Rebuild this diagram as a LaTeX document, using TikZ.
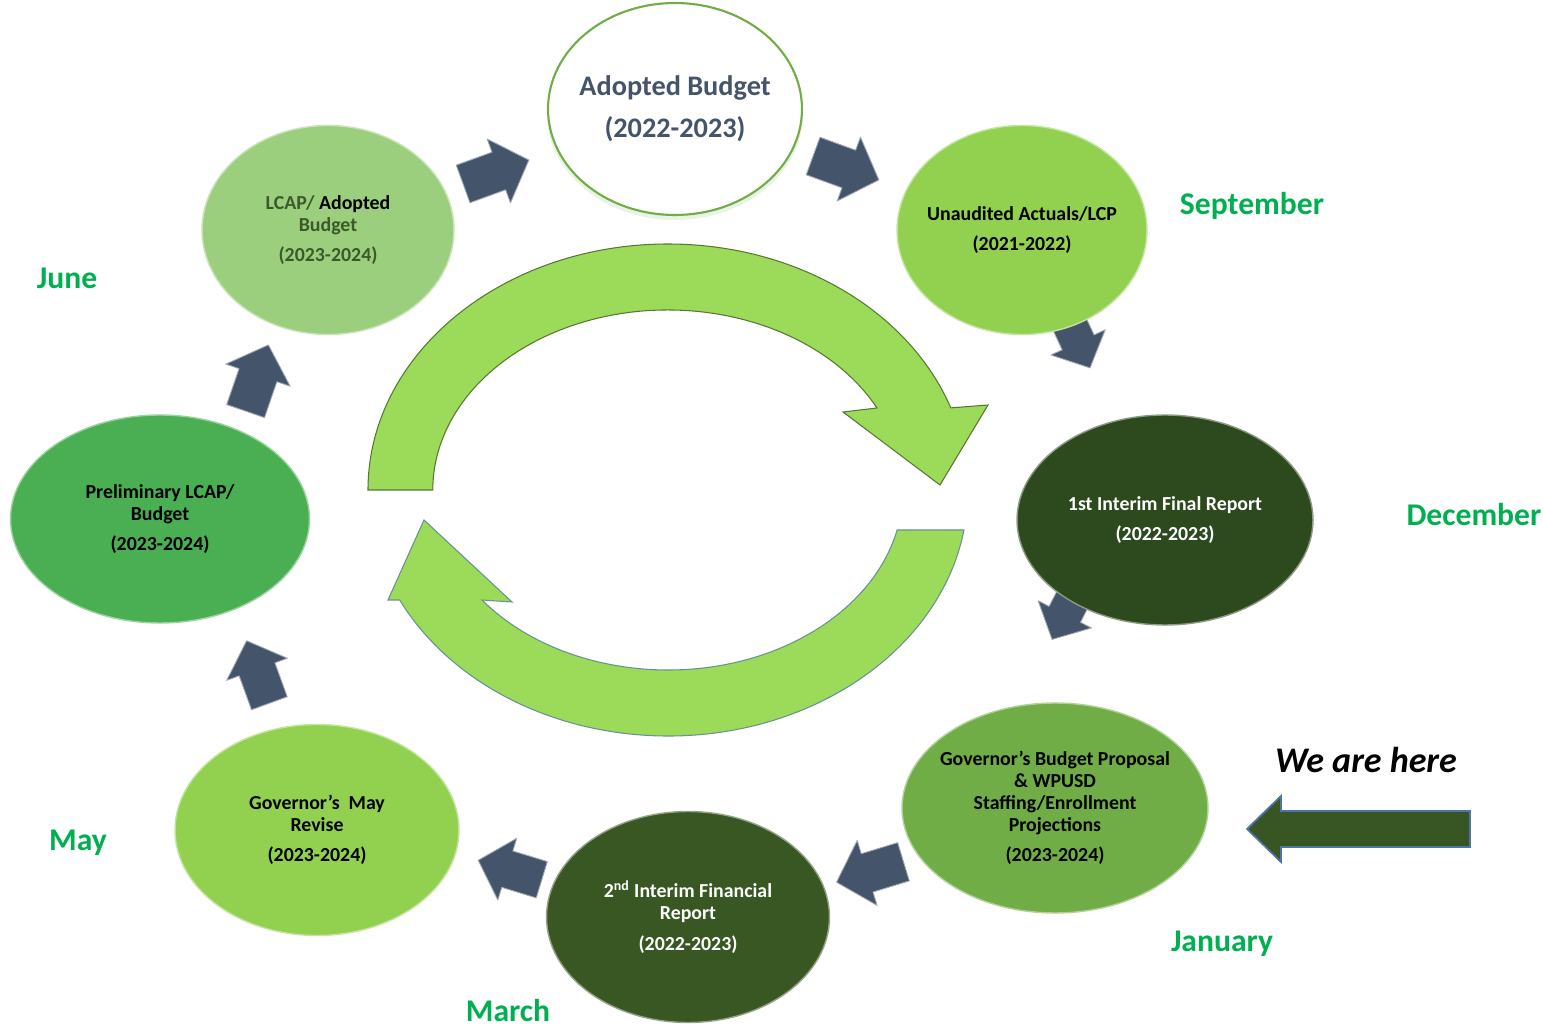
\documentclass[tikz,border=0pt]{standalone}
\usepackage{fontspec}
\setmainfont{Carlito}
\usetikzlibrary{shapes.geometric}

\definecolor{slate}{HTML}{44546A}
\definecolor{monthgreen}{HTML}{00B050}
\definecolor{olive}{HTML}{3B5A2B}
\definecolor{paleg}{HTML}{9CCF7D}
\definecolor{limeg}{HTML}{92D050}
\definecolor{darkg}{HTML}{2D4A1E}
\definecolor{midg}{HTML}{70AD47}
\definecolor{forestg}{HTML}{385723}
\definecolor{grassg}{HTML}{4AAE52}
\definecolor{ringg}{HTML}{9CDB5A}
\definecolor{pointerg}{HTML}{375623}
\definecolor{pointerline}{HTML}{4F74A8}

\begin{document}
\begin{tikzpicture}[x=0.02cm, y=-0.02cm,
    stage/.style={ellipse, inner sep=0pt, fill=#1, draw=#1!55!white, line width=0.8pt},
    stagetext/.style={align=center, font=\fontsize{11.3}{12.4}\selectfont\bfseries},
    monthlabel/.style={text=monthgreen, font=\fontsize{18}{21}\selectfont\bfseries},
    flowstyle/.style={fill=slate, draw=slate!50!white, line width=0.5pt, line join=round},
    pics/flow/.style={code={
        \draw[flowstyle] (-35,-20) -- (3,-20) -- (3,-34) -- (35,0) -- (3,34) -- (3,20) -- (-35,20) -- cycle;}},
    ringarrow/.style={fill=ringg, draw=ringg!55!black, line width=0.6pt}]
    \useasboundingbox (0,0) rectangle (1543,1030);

    \draw[ringarrow] (368,490) arc[start angle=180, end angle=340.5, x radius=300, y radius=246]
        -- (988,405) -- (940,485) -- (843,412) -- (877,408)
        arc[start angle=332.9, end angle=180, x radius=235, y radius=180] -- cycle;
    \draw[ringarrow, draw=pointerline!70!ringg] (964,530) arc[start angle=9.36, end angle=153.44, x radius=300, y radius=246]
        -- (388,600) -- (424,520) -- (512,602) -- (482,600)
        arc[start angle=142.33, end angle=12.84, x radius=235, y radius=180] -- cycle;

    \pic[rotate=20] (f1) at (496,172) {flow};
    \pic[rotate=-20] (f2) at (846,168) {flow};
    \pic[rotate=-65, scale=0.88] (f3) at (1077,340) {flow};
    \pic[rotate=-117, scale=0.88] (f4) at (1066,612) {flow};
    \pic[rotate=197] (f5) at (870,872) {flow};
    \pic[rotate=163, scale=0.95] (f6) at (510,870) {flow};
    \pic[rotate=110, scale=0.95] (f7) at (258,672) {flow};
    \pic[rotate=71] (f8) at (257,378) {flow};

    \fill[midg!25, opacity=0.6] (675,114) ellipse (128 and 106);
    \node[stage=paleg, minimum width=5.04cm, minimum height=4.18cm,
        label={[stagetext, text=olive]center:{LCAP/\ \textcolor{black}{Adopted}\\Budget\\[5pt](2023-2024)}}] (lcap) at (328,230) {};
    \node[ellipse, inner sep=0pt, fill=white, draw=midg, line width=1.2pt, minimum width=5.08cm, minimum height=4.24cm,
        label={[align=center, text=slate, font=\fontsize{16.1}{24}\selectfont\bfseries]center:{Adopted Budget\\(2022-2023)}}] (adopted) at (675,109) {};
    \node[stage=limeg, minimum width=5.0cm, minimum height=4.18cm,
        label={[stagetext]center:{Unaudited Actuals/LCP\\[5pt](2021-2022)}}] (unaudited) at (1022,230) {};
    \node[stage=darkg, minimum width=5.92cm, minimum height=4.2cm,
        label={[stagetext, text=white]center:{1st Interim Final Report\\[5pt](2022-2023)}}] (first) at (1165,520) {};
    \node[stage=midg, minimum width=6.12cm, minimum height=4.2cm,
        label={[stagetext]center:{Governor’s Budget Proposal\\\& WPUSD\\Staffing/Enrollment\\Projections\\[5pt](2023-2024)}}] (governor) at (1055,808) {};
    \node[stage=forestg, minimum width=5.66cm, minimum height=4.22cm,
        label={[stagetext, text=white]center:{2\textsuperscript{nd} Interim Financial\\Report\\[5pt](2022-2023)}}] (second) at (688,917) {};
    \node[stage=limeg, minimum width=5.68cm, minimum height=4.22cm,
        label={[stagetext]center:{Governor’s\ \ May\\Revise\\[5pt](2023-2024)}}] (revise) at (317,830) {};
    \node[stage=grassg, minimum width=5.98cm, minimum height=4.16cm,
        label={[stagetext]center:{Preliminary LCAP/\\Budget\\[5pt](2023-2024)}}] (prelim) at (160,519) {};

    \node[monthlabel] (june) at (67,278) {June};
    \node[monthlabel] (september) at (1252,206) {September};
    \node[monthlabel] (december) at (1474,515) {December};
    \node[monthlabel] (january) at (1222,944) {January};
    \node[monthlabel] (march) at (508,1011) {March};
    \node[monthlabel] (may) at (78,843) {May};

    \node[font=\fontsize{20.5}{24}\selectfont\bfseries\itshape] (here) at (1366,760) {We are here};
    \draw[fill=pointerg, draw=pointerline, line width=1pt] (1470,811) -- (1470,847) -- (1281,847)
        -- (1281,862) -- (1247,829) -- (1281,796) -- (1281,811) -- cycle;
\end{tikzpicture}
\end{document}
